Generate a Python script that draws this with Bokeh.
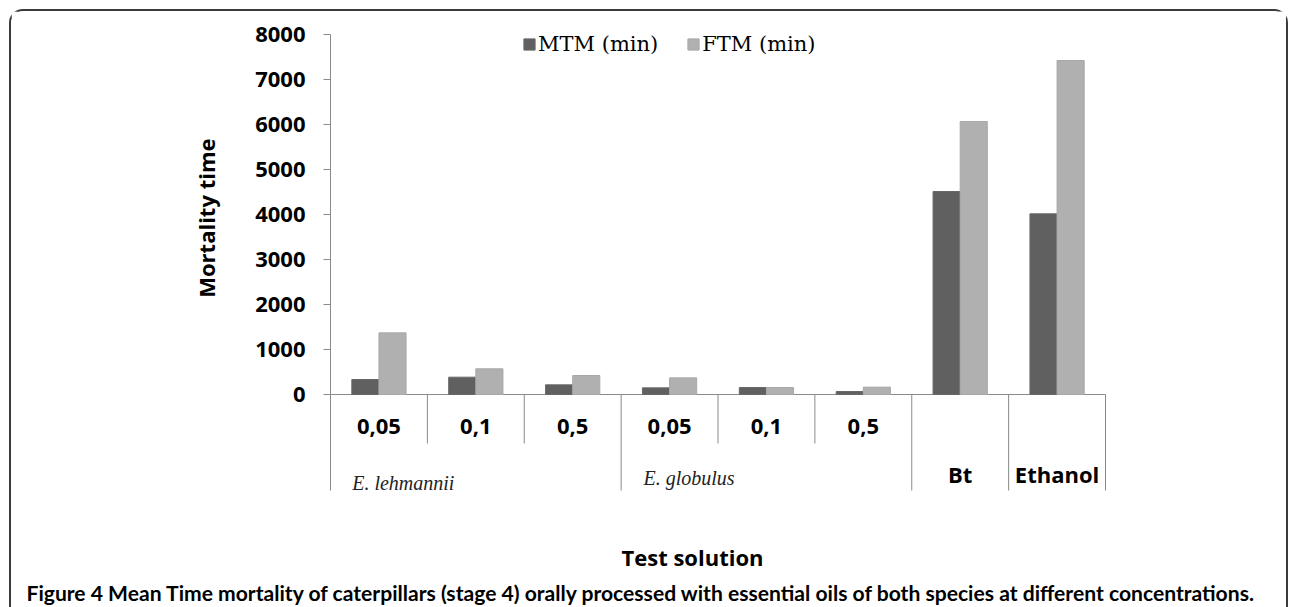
from bokeh.plotting import figure
from bokeh.models import (Range1d, FixedTicker, Legend, LegendItem, Label, Title,
                          ColumnDataSource)
from bokeh.transform import dodge
from bokeh.core.properties import value
from bokeh.embed import file_html
from bokeh.resources import INLINE

# ---------------- data ----------------
tick_labels = ["0,05", "0,1", "0,5", "0,05", "0,1", "0,5", "Bt", "Ethanol"]
species = ["E. lehmannii", "E. globulus"]
group_sizes = [3, 3, 1, 1]          # E. lehmannii, E. globulus, Bt, Ethanol
mtm = [333, 385, 215, 148, 155, 67, 4511, 4015]
ftm = [1370, 571, 422, 370, 155, 163, 6067, 7422]
series_names = ["MTM (min)", "FTM (min)"]
y_ticks = [0, 1000, 2000, 3000, 4000, 5000, 6000, 7000, 8000]
y_title = "Mortality time"
x_title = "Test solution"
caption = ("Figure 4 Mean Time mortality of caterpillars (stage 4) orally processed "
           "with essential oils of both species at different concentrations.")

# ---------------- layout (pixels) ----------------
OFF_X, OFF_Y = 11, 11       # canvas origin on the page
W, H = 1275, 596
AXIS_PAGE_X = 330           # page x of the value axis
ZERO_PAGE_Y = 394           # page y of value 0
CAT_PX = 96.875             # width of one category
PPU = 0.045                 # px per value unit
FRAME_LEFT = AXIS_PAGE_X - OFF_X
FRAME_BOTTOM = 577 - OFF_Y  # canvas y of frame bottom
ZERO_Y = ZERO_PAGE_Y - OFF_Y
SANS_SHIFT = 9              # baseline correction for text glyphs (px)
SERIF_SHIFT = 8

def xd(page_x):
    return (page_x - AXIS_PAGE_X) / CAT_PX

def yd(page_y):
    return (ZERO_PAGE_Y - page_y) / PPU

n = len(tick_labels)
x_range = Range1d(0, (W - FRAME_LEFT) / CAT_PX)
y_range = Range1d(-(FRAME_BOTTOM - ZERO_Y) / PPU, ZERO_Y / PPU)

p = figure(width=W, height=H, x_range=x_range, y_range=y_range,
           output_backend="svg", toolbar_location=None, x_axis_location=None,
           min_border_left=FRAME_LEFT, min_border_right=0,
           min_border_top=0, min_border_bottom=H - FRAME_BOTTOM,
           background_fill_color="white", border_fill_color="white",
           outline_line_color=None,
           styles={"margin-left": f"{OFF_X}px", "margin-top": f"{OFF_Y}px",
                   "outline": "2px solid #3a3a3a",
                   "border-radius": "12px 12px 0 0"})
p.grid.visible = False

AXIS_GRAY = "#8a8a8a"
short_bottom = yd(443)
long_bottom = yd(490)

# value axis
ax = p.yaxis[0]
ax.ticker = FixedTicker(ticks=y_ticks)
ax.bounds = (long_bottom, y_ticks[-1])
ax.axis_line_color = AXIS_GRAY
ax.major_tick_line_color = AXIS_GRAY
ax.major_tick_in = 0
ax.major_tick_out = 7
ax.minor_tick_line_color = None
ax.major_label_standoff = 18
ax.major_label_text_font = "Open Sans"
ax.major_label_text_font_style = "bold"
ax.major_label_text_font_size = "22px"
ax.major_label_text_color = "black"

# value-axis title, placed along the left side
p.add_layout(Title(text=y_title, align="right", offset=138 - OFF_Y, standoff=64,
                   text_font="Open Sans", text_font_style="bold",
                   text_font_size="22px", text_color="black"), "left")

# category axis line and separators
p.segment(x0=[0], y0=[0], x1=[n], y1=[0], line_color=AXIS_GRAY, line_width=1)
bounds = [0]
for g in group_sizes:
    bounds.append(bounds[-1] + g)
long_x = bounds[1:]
short_x = [i for i in range(1, n) if i not in bounds]
p.segment(x0=long_x, y0=[0] * len(long_x), x1=long_x, y1=[long_bottom] * len(long_x),
          line_color=AXIS_GRAY, line_width=1)
p.segment(x0=short_x, y0=[0] * len(short_x), x1=short_x, y1=[short_bottom] * len(short_x),
          line_color=AXIS_GRAY, line_width=1)

# bars
src = ColumnDataSource(dict(x=[i + 0.5 for i in range(n)], mtm=mtm, ftm=ftm))
r1 = p.vbar(x=dodge("x", -0.14, range=x_range), top="mtm", width=0.28, source=src,
            fill_color="#606060", line_color="#686868", line_width=1)
r2 = p.vbar(x=dodge("x", 0.14, range=x_range), top="ftm", width=0.28, source=src,
            fill_color="#b0b0b0", line_color="#a8a8a8", line_width=1)

# category labels
n_conc = sum(g for g in group_sizes if g > 1)
first_level = list(range(n_conc))
single = list(range(n_conc, n))
p.text(x=[i + 0.5 for i in first_level], y=[yd(435 - SANS_SHIFT)] * len(first_level),
       text=[tick_labels[i] for i in first_level],
       text_font=value("Open Sans"), text_font_style="bold", text_font_size="22px",
       text_align="center", text_baseline="alphabetic", text_color="black")
p.text(x=[i + 0.5 for i in single], y=[yd(482 - SANS_SHIFT)] * len(single),
       text=[tick_labels[i] for i in single],
       text_font=value("Open Sans"), text_font_style="bold", text_font_size="22px",
       text_align="center", text_baseline="alphabetic", text_color="black")
sp_x = [bounds[0] + xd(351.7), bounds[1] + xd(643) - 3]
sp_y = [yd(490 - SERIF_SHIFT), yd(485 - SERIF_SHIFT)]
p.text(x=sp_x, y=sp_y, text=species,
       text_font=value("Liberation Serif"), text_font_style="italic", text_font_size="20px",
       text_align="left", text_baseline="alphabetic", text_color="#222222")

# x title
p.add_layout(Label(x=xd(692), y=yd(565 - SANS_SHIFT), text=x_title, text_font="Open Sans",
                   text_font_style="bold", text_font_size="22px", text_align="center",
                   text_baseline="alphabetic", text_color="black"))

# legend
legend = Legend(items=[LegendItem(label=series_names[0], renderers=[r1]),
                       LegendItem(label=series_names[1], renderers=[r2])],
                orientation="horizontal",
                location=(522 - AXIS_PAGE_X, FRAME_BOTTOM - 45),
                glyph_width=14, glyph_height=14, label_standoff=2, spacing=28,
                padding=0, margin=0, border_line_color=None, background_fill_alpha=0,
                label_text_font="DejaVu Serif", label_text_font_size="21px",
                label_text_color="black")
p.add_layout(legend)

# caption (below the frame, starting left of the axis)
p.add_layout(Title(text=caption, align="left", offset=26 - AXIS_PAGE_X, standoff=0,
                   text_font="Lato", text_font_style="bold", text_font_size="21.1px",
                   text_color="black"), "below")

open("out.html", "w").write(file_html(p, INLINE))
